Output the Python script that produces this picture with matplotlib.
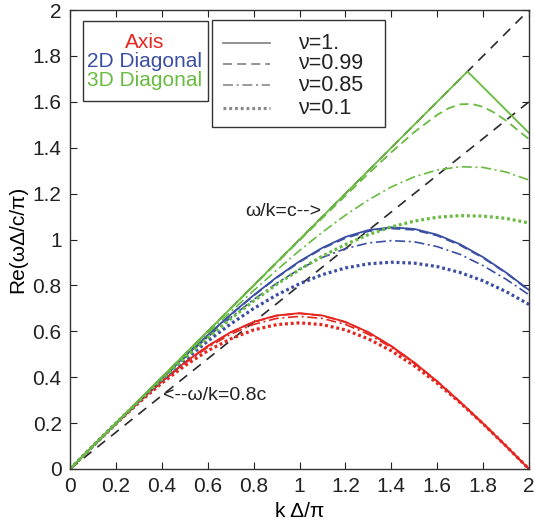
import matplotlib
matplotlib.use("Agg")
import matplotlib.pyplot as plt
from matplotlib.patches import Rectangle
from matplotlib.lines import Line2D

plt.rcParams['font.family'] = ['Liberation Sans', 'DejaVu Sans']

# ---------------- data ----------------
k = [0.0, 0.1, 0.2, 0.3, 0.4, 0.5, 0.6, 0.7, 0.8, 0.9, 1.0,
     1.1, 1.2, 1.3, 1.4, 1.5, 1.6, 1.7, 1.8, 1.9, 2.0]

axis_nu1 = [0, .100, .198, .292, .382, .464, .536, .596, .641, .669, .679,
            .669, .641, .596, .536, .464, .382, .292, .198, .100, 0]
axis_nu099 = [0, .100, .198, .292, .382, .463, .535, .595, .640, .668, .678,
              .668, .640, .595, .535, .463, .382, .292, .198, .100, 0]
axis_nu085 = [0, .100, .197, .291, .380, .460, .530, .587, .630, .656, .665,
              .656, .630, .587, .530, .460, .380, .291, .197, .100, 0]
axis_nu01 = [0, .100, .197, .289, .374, .450, .515, .567, .606, .629, .637,
             .629, .606, .567, .515, .450, .374, .289, .197, .100, 0]

diag2_nu1 = [0, .100, .199, .298, .395, .491, .583, .673, .757, .835, .905,
             .964, 1.011, 1.041, 1.053, 1.046, 1.021, .979, .923, .856, .780]
diag2_nu099 = [0, .100, .199, .298, .395, .490, .583, .672, .755, .833, .902,
               .961, 1.006, 1.036, 1.048, 1.042, 1.017, .975, .920, .854, .778]
diag2_nu085 = [0, .100, .199, .297, .393, .486, .575, .660, .738, .809, .871,
               .922, .960, .985, .995, .990, .969, .935, .886, .827, .759]
diag2_nu01 = [0, .100, .198, .295, .387, .475, .557, .632, .699, .758, .807,
              .847, .876, .894, .901, .897, .882, .856, .820, .773, .717]

diag3_nu1_k = [0.0, 1.732, 2.0]
diag3_nu1 = [0.0, 1.732, 1.464]
diag3_nu099_k = [0.0, 0.1, 0.2, 0.3, 0.4, 0.5, 0.6, 0.7, 0.8, 0.9, 1.0,
                 1.1, 1.2, 1.3, 1.4, 1.5, 1.6, 1.65, 1.7, 1.75, 1.8, 1.85, 1.9, 2.0]
diag3_nu099 = [0, .100, .200, .300, .400, .500, .599, .699, .798, .897, .996,
               1.094, 1.191, 1.287, 1.380, 1.468, 1.543, 1.572, 1.589, 1.591,
               1.578, 1.552, 1.518, 1.437]
diag3_nu085 = [0, .100, .200, .299, .397, .495, .591, .685, .777, .866, .952,
               1.032, 1.106, 1.172, 1.229, 1.273, 1.303, 1.317, 1.314, 1.294, 1.259]
diag3_nu01 = [0, .100, .199, .296, .391, .483, .571, .654, .732, .804, .869,
              .928, .978, 1.021, 1.055, 1.080, 1.097, 1.104, 1.102, 1.092, 1.072]

ref_k = [0.0, 2.0]
ref_c = [0.0, 2.0]      # omega/k = c
ref_08c = [0.0, 1.6]    # omega/k = 0.8c

direction_labels = ['Axis', '2D Diagonal', '3D Diagonal']
nu_labels = ['ν=1.', 'ν=0.99', 'ν=0.85', 'ν=0.1']
xticks = [0, 0.2, 0.4, 0.6, 0.8, 1, 1.2, 1.4, 1.6, 1.8, 2]
xtick_labels = ['0', '0.2', '0.4', '0.6', '0.8', '1', '1.2', '1.4', '1.6', '1.8', '2']

# ---------------- style ----------------
RED = '#e5261f'
BLUE = '#3a4ea3'
GREEN = '#68bb3f'
colors = [RED, BLUE, GREEN]
styles = ['-', (0, (5, 2.8)), (0, (6, 2.2, 1.2, 2.2)), (0, (0.9, 0.9))]
widths = [1.3, 1.3, 1.2, 2.3]
FS = 15

fig = plt.figure(figsize=(5.35, 5.2), dpi=100)
ax = fig.add_axes([70 / 535, 1 - 469 / 520, 459 / 535, 459 / 520])

# reference lines
ax.plot(ref_k, ref_c, color='#2a2a2a', lw=1.2, ls=(0, (6, 4.5)))
ax.plot(ref_k, ref_08c, color='#2a2a2a', lw=1.2, ls=(0, (6, 4.5)))

groups = [
    [(k, axis_nu1), (k, axis_nu099), (k, axis_nu085), (k, axis_nu01)],
    [(k, diag2_nu1), (k, diag2_nu099), (k, diag2_nu085), (k, diag2_nu01)],
    [(diag3_nu1_k, diag3_nu1), (diag3_nu099_k, diag3_nu099), (k, diag3_nu085), (k, diag3_nu01)],
]
for col, grp in zip(colors, groups):
    for (xs, ys), ls, lw in zip(grp, styles, widths):
        ax.plot(xs, ys, color=col, ls=ls, lw=lw)

# annotations
ax.text(1.095, 1.12, 'ω/k=c-->', fontsize=FS - 1, ha='right', va='center', color='#222')
ax.text(0.405, 0.32, '<--ω/k=0.8c', fontsize=FS - 1, ha='left', va='center', color='#222')

ax.set_xlim(0, 2)
ax.set_ylim(0, 2)
ax.set_xticks(xticks)
ax.set_xticklabels(xtick_labels)
ax.set_yticks(xticks)
ax.set_yticklabels(xtick_labels)
ax.tick_params(direction='in', top=True, right=True, length=5, width=0.8,
               labelsize=FS, pad=6, colors='#222')
for s in ax.spines.values():
    s.set_linewidth(1.0)
    s.set_color('#333')
ax.set_xlabel('k Δ/π', fontsize=FS, labelpad=4)
ax.set_ylabel('Re(ωΔ/c/π)', fontsize=FS, labelpad=4)

# left legend box (colour-coded direction names)
ax.add_patch(Rectangle((0.028, 0.802), 0.273, 0.174, transform=ax.transAxes,
                       fill=True, facecolor='white', edgecolor='#333', lw=1.0, zorder=5))
for lab, col, yy in zip(direction_labels, colors, [0.930, 0.887, 0.846]):
    ax.text(0.162, yy, lab, color=col, fontsize=FS, ha='center', va='center',
            transform=ax.transAxes, zorder=6)

# right legend box (line styles)
ax.add_patch(Rectangle((0.309, 0.745), 0.377, 0.233, transform=ax.transAxes,
                       fill=True, facecolor='white', edgecolor='#333', lw=1.0, zorder=5))
for lab, ls, lw, yy in zip(nu_labels, styles, widths, [0.928, 0.883, 0.836, 0.786]):
    ax.add_line(Line2D([0.333, 0.436], [yy, yy], transform=ax.transAxes,
                       color='#8a8a8a', ls=ls, lw=lw, zorder=6))
    ax.text(0.497, yy, lab, fontsize=FS + 0.5, ha='left', va='center',
            transform=ax.transAxes, zorder=6, color='#222')

fig.savefig('out.png', dpi=100)
